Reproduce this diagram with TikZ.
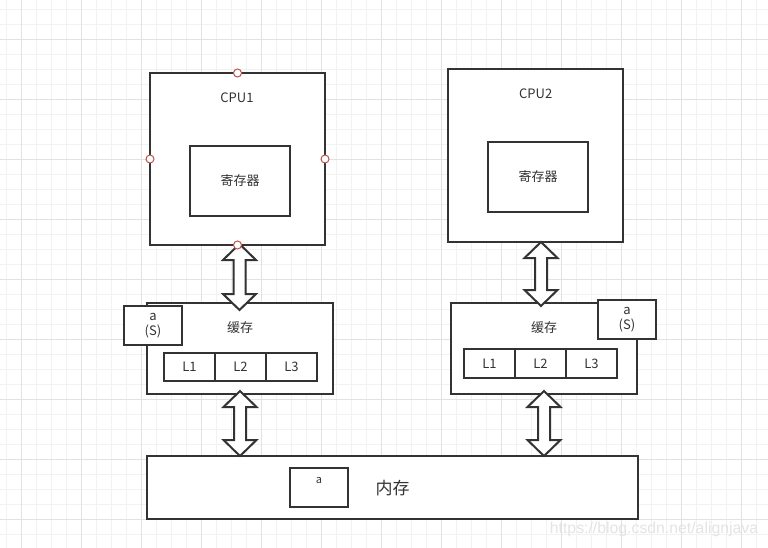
\documentclass[tikz,border=0pt]{standalone}
\usepackage{fontspec}
\setmainfont{Noto Sans CJK SC}
\newfontfamily\wmfont{Liberation Sans}
\usetikzlibrary{calc}
\definecolor{ln}{HTML}{333333}
\definecolor{tx}{HTML}{333333}
\definecolor{gmin}{HTML}{F2F2F2}
\definecolor{gmaj}{HTML}{E2E2E2}
\definecolor{cpred}{HTML}{B85450}
\definecolor{wm}{HTML}{E4E4E4}
\tikzset{
  box/.style={draw=ln, line width=2pt, fill=white, inner sep=0pt, outer sep=0pt},
  lbl/.style={text=tx, font=\fontsize{13}{15.6}\selectfont, inner sep=0pt, align=center},
  blockarrow/.style={draw=ln, line width=2pt, fill=white, line join=miter},
  cpt/.style={draw=cpred, fill=white, line width=1pt, circle, minimum size=8pt, inner sep=0pt},
}
\newcommand\dblarrow[2]{%
  \draw[blockarrow] let \p1=(#1), \p2=(#2) in
    (\p1) -- (\x1+16.5pt,\y1-16pt) -- (\x1+6pt,\y1-16pt) -- (\x1+6pt,\y2+16pt)
    -- (\x1+16.5pt,\y2+16pt) -- (\x1,\y2) -- (\x1-16.5pt,\y2+16pt) -- (\x1-6pt,\y2+16pt)
    -- (\x1-6pt,\y1-16pt) -- (\x1-16.5pt,\y1-16pt) -- cycle;}
\begin{document}
\begin{tikzpicture}[x=1pt,y=-1pt]
\useasboundingbox (0,0) rectangle (768,548);
\fill[white] (0,0) rectangle (768,548);
% grid
\foreach \gx in {6.7,21.7,...,768} \draw[gmin, line width=1pt] (\gx,0) -- (\gx,548);
\foreach \gy in {9.3,24.3,...,548} \draw[gmin, line width=1pt] (0,\gy) -- (768,\gy);
\foreach \gx in {21.7,81.7,...,768} \draw[gmaj, line width=1pt] (\gx,0) -- (\gx,548);
\foreach \gy in {39.3,99.3,...,548} \draw[gmaj, line width=1pt] (0,\gy) -- (768,\gy);

% CPUs
\node[box, minimum width=175pt, minimum height=172pt] (cpu1) at (237.5,159) {};
\node[box, minimum width=100pt, minimum height=70pt] (reg1) at (240,181) {};
\node[box, minimum width=175pt, minimum height=173pt] (cpu2) at (535.5,155.5) {};
\node[box, minimum width=100pt, minimum height=70pt] (reg2) at (538,177) {};
\node[lbl] (cpu1t) at (237,97.5) {CPU1};
\node[lbl] (cpu2t) at (535.7,93.5) {CPU2};
\node[lbl] (reg1t) at (reg1.center) {寄存器};
\node[lbl] (reg2t) at (reg2.center) {寄存器};

% caches
\node[box, minimum width=186pt, minimum height=91pt] (cache1) at (240,348.5) {};
\node[box, minimum width=186pt, minimum height=91pt] (cache2) at (544,348.5) {};
\node[lbl] (cache1t) at (240,328) {缓存};
\node[lbl] (cache2t) at (544,328) {缓存};
\node[box, lbl, minimum width=51pt, minimum height=28pt] (c1l1) at (189.5,367) {L1};
\node[box, lbl, minimum width=51pt, minimum height=28pt] (c1l2) at (240.5,367) {L2};
\node[box, lbl, minimum width=51pt, minimum height=28pt] (c1l3) at (291.5,367) {L3};
\node[box, lbl, minimum width=51pt, minimum height=29pt] (c2l1) at (489.5,363.5) {L1};
\node[box, lbl, minimum width=51pt, minimum height=29pt] (c2l2) at (540.5,363.5) {L2};
\node[box, lbl, minimum width=51pt, minimum height=29pt] (c2l3) at (591.5,363.5) {L3};
\node[box, lbl, minimum width=58pt, minimum height=39pt] (as1) at (153,325.5) {a\\(S)};
\node[box, lbl, minimum width=58pt, minimum height=39pt] (as2) at (627,319.5) {a\\(S)};

% memory
\node[box, minimum width=491pt, minimum height=63pt] (mem) at (392.5,487.5) {};
\node[box, minimum width=58pt, minimum height=39pt] (mema) at (319,487.5) {};
\node[lbl, font=\fontsize{11}{13}\selectfont] (memat) at (319,480.5) {a};
\node[lbl, font=\fontsize{17}{20}\selectfont] (memt) at (392.5,488) {内存};

% double arrows
\coordinate (a1t) at (239.5,244);
\coordinate (a1b) at (239.5,310);
\coordinate (a2t) at (541,242);
\coordinate (a2b) at (541,306);
\coordinate (a3t) at (240,391);
\coordinate (a3b) at (240,456);
\coordinate (a4t) at (544,391);
\coordinate (a4b) at (544,456);
\dblarrow{a1t}{a1b}
\dblarrow{a2t}{a2b}
\dblarrow{a3t}{a3b}
\dblarrow{a4t}{a4b}

% connection points
\node[cpt] (p1) at (cpu1.north) {};
\node[cpt] (p2) at (cpu1.west) {};
\node[cpt] (p3) at (cpu1.east) {};
\node[cpt] (p4) at (cpu1.south) {};

% watermark
\node[text=wm, font=\wmfont\fontsize{15.8}{18}\selectfont, inner sep=0pt] (wmark) at (654,529) {https://blog.csdn.net/alignjava};
\end{tikzpicture}
\end{document}
